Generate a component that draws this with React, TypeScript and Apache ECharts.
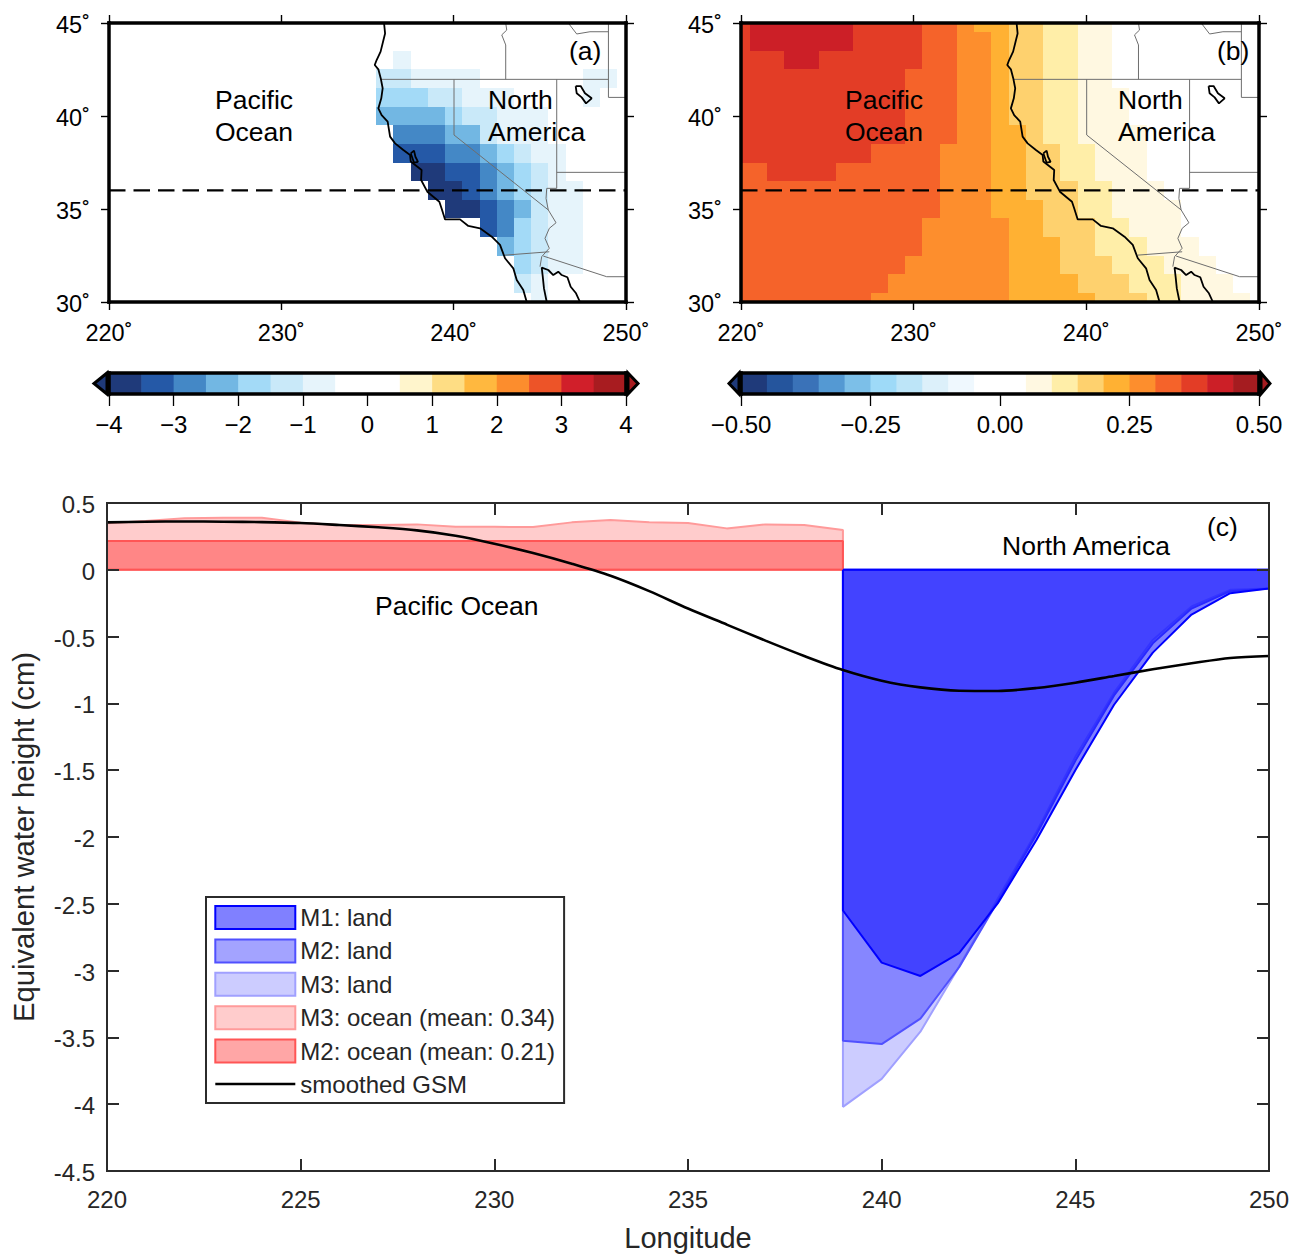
import React, { useEffect, useRef } from "react";
import * as echarts from "echarts";

const FONT = "Liberation Sans";

// ---- colour scales (colour bars) ----
const barAColors = ["#1f3a7a","#2559a7","#4488c6","#72b7e3","#a3daf7","#c9e9f9","#e6f4fb","#ffffff","#ffffff","#fff5cc","#fedd84","#ffb83f","#fc8d2d","#ed5428","#d11f2a","#a81c20"];
const barBColors = ["#1f3a7a","#25559d","#3a72b8","#5499d3","#7cbfe8","#9edaf8","#bde5f8","#dcf0fa","#eff8fe","#ffffff","#ffffff","#fff8e1","#ffeea8","#fed16e","#ffb133","#fd8e2d","#f5632a","#e33d26","#cc1f27","#a51c20"];

// ---- panel (a): cm, longitudes 236..249 ----
const aLons = [236,237,238,239,240,241,242,243,244,245,246,247,248,249];
const aLat43 = [0,-0.75,0,0,0,0,0,0,0,0,0,0,0,0];
const aLat42 = [-1.25,-1.25,-0.75,-0.75,-0.75,-0.75,0,0,0,0,0,0,-0.75,-0.75];
const aLat41 = [-1.75,-1.75,-1.75,-1.25,-1.25,-0.75,-0.75,-0.75,0,0,0,0,-0.75,0];
const aLat40 = [-2.25,-2.25,-2.25,-2.25,-1.75,-1.25,-1.25,-0.75,-0.75,-0.75,0,0,0,0];
const aLat39 = [0,-2.75,-2.75,-2.75,-2.25,-2.25,-1.25,-0.75,-0.75,-0.75,0,0,0,0];
const aLat38 = [0,-3.25,-3.25,-3.25,-2.75,-2.75,-2.25,-1.75,-1.25,-0.75,-0.75,0,0,0];
const aLat37 = [0,0,-3.75,-3.75,-3.25,-3.25,-2.75,-2.25,-1.75,-1.25,-0.75,0,0,0];
const aLat36 = [0,0,0,-3.75,-3.75,-3.25,-2.75,-2.25,-1.75,-1.25,-0.75,-0.75,0,0];
const aLat35 = [0,0,0,0,-3.75,-3.75,-3.25,-2.75,-2.25,-1.25,-0.75,-0.75,0,0];
const aLat34 = [0,0,0,0,0,0,-3.25,-2.75,-1.75,-1.25,-0.75,-0.75,0,0];
const aLat33 = [0,0,0,0,0,0,0,-2.25,-1.75,-1.25,-0.75,-0.75,0,0];
const aLat32 = [0,0,0,0,0,0,0,0,-1.75,-1.25,-0.75,-0.75,0,0];
const aLat31 = [0,0,0,0,0,0,0,0,-1.25,-0.75,0,0,0,0];
const aLat30 = [0,0,0,0,0,0,0,0,0,-0.75,0,0,0,0];
const aRows: [number, number[]][] = [[43,aLat43],[42,aLat42],[41,aLat41],[40,aLat40],[39,aLat39],[38,aLat38],[37,aLat37],[36,aLat36],[35,aLat35],[34,aLat34],[33,aLat33],[32,aLat32],[31,aLat31],[30,aLat30]];

// ---- panel (b): longitudes 220..250 ----
const bLons = [220,221,222,223,224,225,226,227,228,229,230,231,232,233,234,235,236,237,238,239,240,241,242,243,244,245,246,247,248,249,250];
const bLat45 = [.38,.43,.43,.43,.43,.43,.43,.38,.38,.38,.38,.33,.33,.28,.23,.23,.18,.18,.13,.13,.08,.08,0,0,0,0,0,0,0,0,0];
const bLat44 = [.38,.43,.43,.43,.43,.43,.43,.38,.38,.38,.38,.33,.33,.28,.28,.23,.18,.18,.13,.13,.08,.08,0,0,0,0,0,0,0,0,0];
const bLat43 = [.38,.38,.38,.43,.43,.38,.38,.38,.38,.38,.38,.33,.33,.28,.28,.23,.18,.18,.13,.13,.08,.08,0,0,0,0,0,0,0,0,0];
const bLat42 = [.38,.38,.38,.38,.38,.38,.38,.38,.38,.38,.33,.33,.33,.28,.28,.23,.18,.18,.13,.13,.08,.08,0,0,0,0,0,0,0,0,0];
const bLat41 = [.38,.38,.38,.38,.38,.38,.38,.38,.38,.38,.33,.33,.33,.28,.28,.23,.18,.18,.13,.13,.08,.08,.08,0,0,0,0,0,0,0,0];
const bLat40 = [.38,.38,.38,.38,.38,.38,.38,.38,.38,.38,.33,.33,.33,.28,.28,.23,.18,.18,.13,.13,.08,.08,.08,0,0,0,0,0,0,0,0];
const bLat39 = [.38,.38,.38,.38,.38,.38,.38,.38,.38,.38,.33,.33,.33,.28,.28,.23,.23,.18,.13,.13,.08,.08,.08,.08,0,0,0,0,0,0,0];
const bLat38 = [.38,.38,.38,.38,.38,.38,.38,.38,.33,.33,.33,.33,.28,.28,.28,.23,.23,.18,.18,.13,.13,.08,.08,.08,0,0,0,0,0,0,0];
const bLat37 = [.33,.33,.38,.38,.38,.38,.33,.33,.33,.33,.33,.33,.28,.28,.28,.23,.23,.18,.18,.13,.13,.08,.08,.08,0,0,0,0,0,0,0];
const bLat36 = [.33,.33,.33,.33,.33,.33,.33,.33,.33,.33,.33,.33,.28,.28,.28,.23,.23,.18,.18,.18,.13,.13,.08,.08,.08,0,0,0,0,0,0];
const bLat35 = [.33,.33,.33,.33,.33,.33,.33,.33,.33,.33,.33,.33,.28,.28,.28,.23,.23,.23,.18,.18,.13,.13,.08,.08,.08,.08,0,0,0,0,0];
const bLat34 = [.33,.33,.33,.33,.33,.33,.33,.33,.33,.33,.33,.28,.28,.28,.28,.28,.23,.23,.18,.18,.18,.13,.13,.08,.08,.08,0,0,0,0,0];
const bLat33 = [.33,.33,.33,.33,.33,.33,.33,.33,.33,.33,.33,.28,.28,.28,.28,.28,.23,.23,.23,.18,.18,.13,.13,.13,.08,.08,.08,0,0,0,0];
const bLat32 = [.33,.33,.33,.33,.33,.33,.33,.33,.33,.33,.28,.28,.28,.28,.28,.28,.23,.23,.23,.18,.18,.18,.13,.13,.13,.08,.08,.08,0,0,0];
const bLat31 = [.33,.33,.33,.33,.33,.33,.33,.33,.33,.28,.28,.28,.28,.28,.28,.28,.23,.23,.23,.23,.18,.18,.18,.13,.13,.13,.08,.08,.08,0,0];
const bLat30 = [.33,.33,.33,.33,.33,.33,.33,.33,.28,.28,.28,.28,.28,.28,.28,.28,.23,.23,.23,.23,.23,.18,.18,.18,.13,.13,.08,.08,.08,.08,0];
const bRows: [number, number[]][] = [[45,bLat45],[44,bLat44],[43,bLat43],[42,bLat42],[41,bLat41],[40,bLat40],[39,bLat39],[38,bLat38],[37,bLat37],[36,bLat36],[35,bLat35],[34,bLat34],[33,bLat33],[32,bLat32],[31,bLat31],[30,bLat30]];

// ---- map outlines [lon, lat] ----
const coastMain = [[235.96,45],[236.02,44.44],[235.88,43.91],[235.76,43.46],[235.53,43.01],[235.42,42.74],[235.63,42.51],[235.77,42.02],[235.88,41.49],[235.8,40.95],[235.63,40.41],[235.82,40.05],[236.17,39.7],[236.31,38.89],[236.6,38.53],[237.08,38.17],[237.47,37.9],[237.51,37.55],[238.14,37.1],[238.11,36.56],[238.47,35.93],[239.17,35.39],[239.3,35.03],[239.5,34.44],[240.37,34.44],[240.85,34.09],[241.53,33.96],[242.21,33.51],[242.69,33.07],[242.98,32.35],[243.46,31.81],[243.66,31.18],[244.04,30.64],[244.24,30]];
const coastGulf = [[245.4,30],[245.24,30.73],[245.17,31.36],[245.11,31.85],[245.49,31.72],[245.78,31.45],[246.07,31.63],[246.27,31.45],[246.6,31.33],[246.79,30.82],[247.1,30.47],[247.33,30]];
const lakeSalt = [[247.08,41.61],[247.37,41.61],[247.62,41.22],[248.01,40.95],[247.68,40.68],[247.43,41],[247.14,41.22],[247.08,41.61]];
const baySF = [[237.51,37.99],[237.7,38.14],[237.78,37.81],[237.93,37.53],[237.7,37.49],[237.58,37.81],[237.51,37.99]];
const coastLines = [coastMain, coastGulf, lakeSalt, baySF];

const border42N = [[235.77,41.97],[248.98,41.97]];
const borderOrId = [[243.02,41.97],[243.02,43.82],[242.79,44.36],[243.08,44.62],[243.02,45]];
const borderMt = [[246.65,45],[247.14,44.41],[247.91,44.53],[248.98,44.53]];
const borderIdWy = [[248.98,45],[248.98,41],[250,41]];
const borderNvUt = [[245.98,41.97],[245.98,36.11],[245.4,36.11]];
const borderUtAz = [[245.98,36.97],[250,36.97]];
const borderCaNv = [[240.02,41.97],[240.02,38.98],[245.49,34.95]];
const borderRiver = [[245.4,36.11],[245.36,35.57],[245.49,34.95],[245.94,34.26],[245.55,33.96],[245.3,33.42],[245.55,32.89],[245.11,32.44],[245.01,31.9]];
const borderCaMx = [[242.98,32.52],[245.55,32.7]];
const borderAzMx = [[245.2,32.47],[248.88,31.36],[250,31.36]];
const borderLines = [border42N, borderOrId, borderMt, borderIdWy, borderNvUt, borderUtAz, borderCaNv, borderRiver, borderCaMx, borderAzMx];
const dashedLat = [[220,36],[250,36]];

// ---- panel (c) ----
const m1LandLon = [239,239,240,241,242,243,244,245,246,247,248,249,250,250,239];
const m1Land = [0,-2.55,-2.94,-3.04,-2.87,-2.495,-2.02,-1.5,-1.01,-0.62,-0.335,-0.175,-0.14,0,0];
const m2Land = [0,-3.525,-3.55,-3.36,-2.975,-2.48,-1.98,-1.43,-0.94,-0.55,-0.29,-0.16,-0.14,0,0];
const m3Land = [0,-4.02,-3.81,-3.457,-2.97,-2.46,-1.96,-1.4,-0.92,-0.525,-0.275,-0.15,-0.14,0,0];
const oceanLon = [220,221,222,223,224,225,226,227,228,229,230,231,232,233,234,235,236,237,238,239,239,220];
const m3Ocean = [0.348,0.365,0.385,0.39,0.39,0.353,0.335,0.335,0.34,0.322,0.322,0.32,0.355,0.373,0.355,0.35,0.31,0.34,0.335,0.298,0,0];
const m2OceanLon = [220,239,239,220];
const m2Ocean = [0.215,0.215,0,0];
const gsmLon = [220,221,222,223,224,225,226,227,228,229,230,231,232,233,234,235,236,237,238,239,240,241,242,243,244,245,246,247,248,249,250];
const gsm = [0.355,0.36,0.362,0.36,0.357,0.35,0.335,0.318,0.295,0.255,0.195,0.125,0.045,-0.045,-0.16,-0.29,-0.41,-0.53,-0.645,-0.75,-0.83,-0.88,-0.905,-0.907,-0.885,-0.845,-0.795,-0.745,-0.7,-0.66,-0.645];

const zip = (xs: number[], ys: number[]) => xs.map((x, i) => [x, ys[i]]);

function heatData(rows: [number, number[]][], lons: number[]) {
  const out: number[][] = [];
  rows.forEach(([lat, vals]) => vals.forEach((v, i) => { if (v !== 0) out.push([lons[i], lat, v]); }));
  return out;
}

function heatItem(colorOf: (v: number) => string) {
  return (_p: any, api: any) => {
    const lon = api.value(0), lat = api.value(1), v = api.value(2);
    const p0 = api.coord([Math.max(lon - 0.5, 220), Math.min(lat + 0.5, 45)]);
    const p1 = api.coord([Math.min(lon + 0.5, 250), Math.max(lat - 0.5, 30)]);
    const x0 = Math.round(p0[0]), x1 = Math.round(p1[0]), y0 = Math.round(p0[1]), y1 = Math.round(p1[1]);
    return { type: "rect", shape: { x: x0, y: y0, width: x1 - x0, height: y1 - y0 }, style: { fill: colorOf(v) } };
  };
}

function barItem(colors: string[]) {
  return (_p: any, api: any) => {
    const p0 = api.coord([api.value(0), 1]);
    const p1 = api.coord([api.value(1), 0]);
    return { type: "rect", shape: { x: p0[0], y: p0[1], width: p1[0] - p0[0] + 0.6, height: p1[1] - p0[1] }, style: { fill: colors[api.value(2)] } };
  };
}

const barData = (colors: string[], min: number, step: number) => colors.map((_, i) => [min + i * step, min + (i + 1) * step, i]);

const BLACK = "#000";
const DARK = "#2b2b2b";

function buildOption() {
  const xAxis: any[] = [];
  const yAxis: any[] = [];
  const grid: any[] = [];
  const series: any[] = [];

  const mapGrid = (left: number, width: number, heat: number[][], colorOf: (v: number) => string) => {
    const g = grid.length;
    grid.push({ left, top: 23, width, height: 279, outerBoundsMode: "none" });
    const ax = { z: 10, splitLine: { show: false }, axisLine: { show: true, onZero: false, lineStyle: { color: BLACK, width: 3.5, cap: "square" } }, axisTick: { show: true, inside: false, length: 8, lineStyle: { color: BLACK, width: 1.4 } } };
    const xi = xAxis.length;
    const lab = { fontSize: 23.5, color: BLACK, fontFamily: FONT, formatter: (v: number) => `${v}˚` };
    xAxis.push({ ...ax, type: "value", gridIndex: g, min: 220, max: 250, interval: 10, position: "bottom", axisLabel: { ...lab, margin: 19 } });
    xAxis.push({ ...ax, type: "value", gridIndex: g, min: 220, max: 250, interval: 10, position: "top", axisLabel: { show: false } });
    const yi = yAxis.length;
    yAxis.push({ ...ax, type: "value", gridIndex: g, min: 30, max: 45, interval: 5, position: "left", axisLabel: { ...lab, margin: 19, verticalAlign: "top", lineHeight: 4 } });
    yAxis.push({ ...ax, type: "value", gridIndex: g, min: 30, max: 45, interval: 5, position: "right", axisLabel: { show: false } });
    series.push({ type: "custom", xAxisIndex: xi, yAxisIndex: yi, silent: true, clip: true, z: 2, data: heat, encode: { x: 0, y: 1 }, renderItem: heatItem(colorOf) });
    borderLines.forEach((d) => series.push({ type: "line", xAxisIndex: xi, yAxisIndex: yi, silent: true, z: 3, symbol: "none", data: d, lineStyle: { color: "#6e6e6e", width: 1 } }));
    coastLines.forEach((d) => series.push({ type: "line", xAxisIndex: xi, yAxisIndex: yi, silent: true, z: 4, symbol: "none", data: d, lineStyle: { color: BLACK, width: 1.8 } }));
    series.push({ type: "line", xAxisIndex: xi, yAxisIndex: yi, silent: true, z: 5, symbol: "none", data: dashedLat, lineStyle: { color: BLACK, width: 2.2, type: [16.5, 8] } });
  };

  const barGrid = (left: number, width: number, min: number, max: number, interval: number, colors: string[], step: number, fmt: (v: number) => string) => {
    const g = grid.length;
    grid.push({ left, top: 373, width, height: 21, outerBoundsMode: "none" });
    const line = { show: true, onZero: false, lineStyle: { color: BLACK, width: 3.6, cap: "square" } };
    const xi = xAxis.length;
    xAxis.push({ type: "value", z: 10, gridIndex: g, min, max, interval, position: "bottom", splitLine: { show: false }, axisLine: line, axisTick: { show: true, length: 12, lineStyle: { color: BLACK, width: 1.3 } }, axisLabel: { fontSize: 24, color: BLACK, fontFamily: FONT, margin: 18, formatter: fmt } });
    xAxis.push({ type: "value", z: 10, gridIndex: g, min, max, interval, position: "top", splitLine: { show: false }, axisLine: line, axisTick: { show: false }, axisLabel: { show: false } });
    const yi = yAxis.length;
    yAxis.push({ type: "value", z: 10, gridIndex: g, min: 0, max: 1, position: "left", splitLine: { show: false }, axisLine: line, axisTick: { show: false }, axisLabel: { show: false } });
    yAxis.push({ type: "value", z: 10, gridIndex: g, min: 0, max: 1, position: "right", splitLine: { show: false }, axisLine: line, axisTick: { show: false }, axisLabel: { show: false } });
    series.push({ type: "custom", xAxisIndex: xi, yAxisIndex: yi, silent: true, z: 2, data: barData(colors, min, step), encode: { x: [0, 1] }, renderItem: barItem(colors) });
  };

  mapGrid(109, 517, heatData(aRows, aLons), (v) => barAColors[Math.floor((v + 4) / 0.5)]);
  mapGrid(741, 518, heatData(bRows, bLons), (v) => barBColors[Math.floor((v + 0.5) / 0.05)]);
  const minus = (s: string) => s.replace("-", "\u2212");
  barGrid(109, 517, -4, 4, 1, barAColors, 0.5, (v) => minus(String(v)));
  barGrid(741, 518, -0.5, 0.5, 0.25, barBColors, 0.05, (v) => minus(v.toFixed(2)));

  // panel (c)
  const gc = grid.length;
  grid.push({ left: 107, top: 503, width: 1162, height: 668, outerBoundsMode: "none" });
  const cAx = { z: 10, splitLine: { show: false }, axisLine: { show: true, onZero: false, lineStyle: { color: DARK, width: 2, cap: "square" } }, axisTick: { show: true, inside: true, length: 12, lineStyle: { color: DARK, width: 2 } } };
  const xc = xAxis.length;
  xAxis.push({ ...cAx, type: "value", gridIndex: gc, min: 220, max: 250, interval: 5, position: "bottom", axisLabel: { fontSize: 24, color: "#262626", fontFamily: FONT, margin: 16 }, name: "Longitude", nameLocation: "middle", nameGap: 52.5, nameTextStyle: { fontSize: 29, color: "#262626", fontFamily: FONT } });
  xAxis.push({ ...cAx, type: "value", gridIndex: gc, min: 220, max: 250, interval: 5, position: "top", axisLabel: { show: false } });
  const yc = yAxis.length;
  yAxis.push({ ...cAx, type: "value", gridIndex: gc, min: -4.5, max: 0.5, interval: 0.5, position: "left", axisLabel: { fontSize: 24, color: "#262626", fontFamily: FONT, margin: 12, verticalAlign: "top", lineHeight: 3 }, name: "Equivalent water height (cm)", nameLocation: "middle", nameGap: 68.5, nameRotate: 90, nameTextStyle: { fontSize: 29.2, color: "#262626", fontFamily: FONT } });
  yAxis.push({ ...cAx, type: "value", gridIndex: gc, min: -4.5, max: 0.5, interval: 0.5, position: "right", axisLabel: { show: false } });

  const area = (name: string, data: number[][], stroke: string, fill: string, opacity: number, z: number) => ({
    name, type: "line", xAxisIndex: xc, yAxisIndex: yc, silent: true, z, symbol: "none", data,
    lineStyle: { color: stroke, width: 2 }, itemStyle: { color: stroke }, areaStyle: { color: fill, opacity },
  });
  series.push(area("M3: land", zip(m1LandLon, m3Land), "#a0a0ff", "#0000ff", 0.2, 3));
  series.push(area("M2: land", zip(m1LandLon, m2Land), "#5050ff", "#0000ff", 0.34, 4));
  series.push(area("M1: land", zip(m1LandLon, m1Land), "#0000ff", "#0000ff", 0.5, 5));
  series.push(area("M3: ocean (mean: 0.34)", zip(oceanLon, m3Ocean), "#ff9a9a", "#ff0000", 0.2, 3));
  series.push(area("M2: ocean (mean: 0.21)", [[220, 0], ...zip(m2OceanLon, m2Ocean)], "#ff5555", "#ff0000", 0.34, 4));
  series.push({ name: "smoothed GSM", type: "line", xAxisIndex: xc, yAxisIndex: yc, silent: true, z: 6, symbol: "none", smooth: 0.3, data: zip(gsmLon, gsm), lineStyle: { color: BLACK, width: 2.6 } });

  const legItem = (name: string, fill: string, stroke: string) => ({ name, icon: "rect", itemStyle: { color: fill, borderColor: stroke, borderWidth: 2, opacity: 1 }, lineStyle: { width: 0 } });

  const text = (t: string, x: number, y: number, size = 26.5, extra: any = {}) => ({
    type: "text", x, y, z: 50, silent: true,
    style: { text: t, fontSize: size, fontFamily: FONT, fill: "#000", verticalAlign: "middle", align: "left", ...extra },
  });
  const tri = (pts: number[][], fill: string) => ({ type: "polygon", z: 20, silent: true, shape: { points: pts }, style: { fill, stroke: "#000", lineWidth: 3 } });

  return {
    animation: false,
    textStyle: { fontFamily: FONT },
    backgroundColor: "#fff",
    grid, xAxis, yAxis, series,
    legend: {
      orient: "vertical", left: 206, top: 897, padding: [8, 9, 7, 8], itemWidth: 80, itemHeight: 23, itemGap: 8.4, selectedMode: false, z: 30,
      backgroundColor: "#fff", borderColor: DARK, borderWidth: 2, align: "left",
      textStyle: { fontSize: 24, color: "#262626", fontFamily: FONT },
      data: [
        legItem("M1: land", "#8080ff", "#0000ff"),
        legItem("M2: land", "#a3a3ff", "#5050ff"),
        legItem("M3: land", "#ccccff", "#a0a0ff"),
        legItem("M3: ocean (mean: 0.34)", "#ffcccc", "#ff9a9a"),
        legItem("M2: ocean (mean: 0.21)", "#ffa6a6", "#ff5555"),
        { name: "smoothed GSM", itemStyle: { opacity: 0 }, lineStyle: { color: "#000", width: 2.6 } },
      ],
    },
    graphic: [
      tri([[107, 373], [94, 383.5], [107, 394]], "#1f3a7a"),
      tri([[628, 373], [638, 383.5], [628, 394]], "#a81c20"),
      tri([[739, 373], [729, 383.5], [739, 394]], "#1f3a7a"),
      tri([[1261, 373], [1270, 383.5], [1261, 394]], "#a51c20"),
      text("(a)", 569, 51),
      text("Pacific", 215, 100),
      text("Ocean", 215, 132),
      text("North", 488, 100),
      text("America", 488, 132),
      text("(b)", 1217, 51),
      text("Pacific", 845, 100),
      text("Ocean", 845, 132),
      text("North", 1118, 100),
      text("America", 1118, 132),
      text("(c)", 1207, 527),
      text("North America", 1002, 546),
      text("Pacific Ocean", 375, 606),
    ],
  };
}

export default function App() {
  const ref = useRef<HTMLDivElement>(null);
  useEffect(() => {
    document.body.style.margin = "0";
    const chart = echarts.init(ref.current!, undefined, { renderer: "svg" });
    chart.setOption(buildOption() as any);
    return () => chart.dispose();
  }, []);
  return <div ref={ref} style={{ width: 1293, height: 1254 }} />;
}
